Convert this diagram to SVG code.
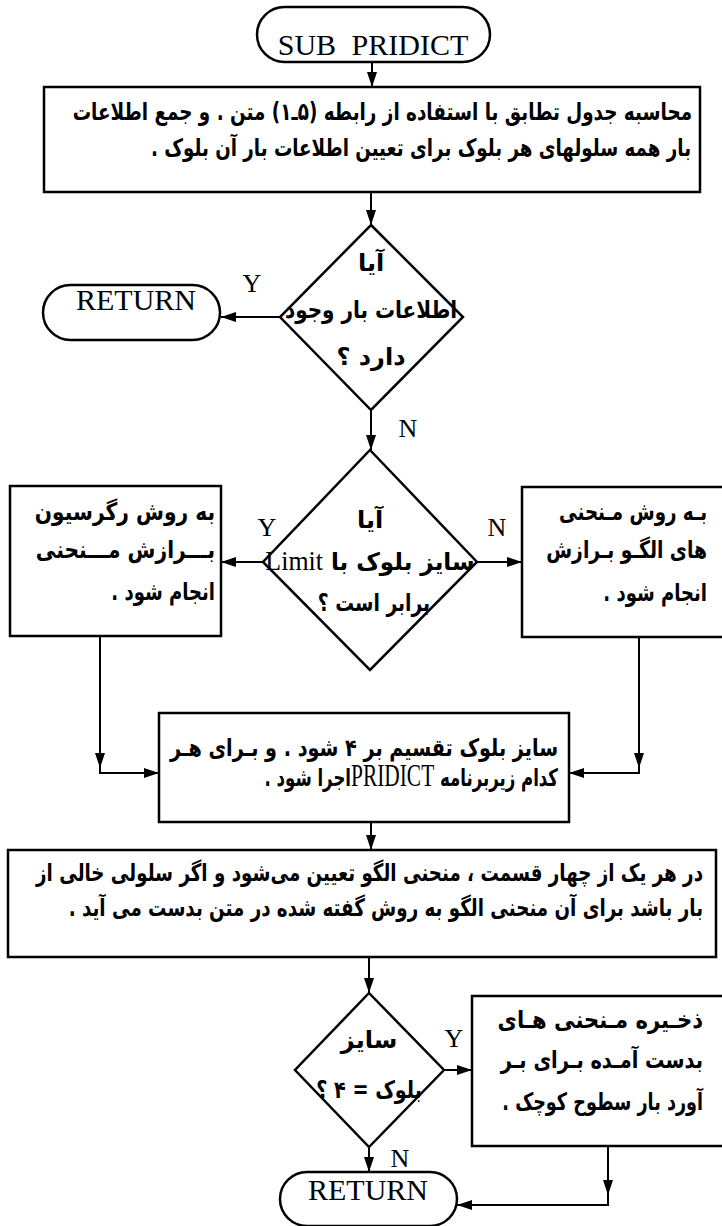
<svg xmlns="http://www.w3.org/2000/svg" width="722" height="1226" viewBox="0 0 722 1226">
<defs>
<marker id="ah" markerWidth="15" markerHeight="10" refX="15" refY="5" orient="auto" markerUnits="userSpaceOnUse"><path d="M0,0 L15,5 L0,10 z" fill="#000"/></marker>
<style>
.sh{fill:#fff;stroke:#000;stroke-width:2.5}
.cn{fill:none;stroke:#000;stroke-width:2}
.fa{font-family:"DejaVu Sans",sans-serif;font-weight:bold;font-size:24px;direction:rtl;fill:#000}
.r{text-anchor:start}
.c{text-anchor:middle}
.lt{font-family:"Liberation Serif",serif;font-weight:normal;font-size:27px}
.lbl{font-family:"Liberation Serif",serif;font-size:26px;fill:#000;text-anchor:middle}
.term{font-family:"Liberation Serif",serif;font-size:30px;text-anchor:middle;fill:#000}
</style>
</defs>
<rect x="0" y="0" width="722" height="1226" fill="#fff"/>
<g id="connectors">
<path class="cn" d="M372,62 V87" marker-end="url(#ah)"/>
<path class="cn" d="M371,192 V225" marker-end="url(#ah)"/>
<path class="cn" d="M280,317 H221" marker-end="url(#ah)"/>
<path class="cn" d="M371,410 V450" marker-end="url(#ah)"/>
<path class="cn" d="M263,562 H221" marker-end="url(#ah)"/>
<path class="cn" d="M477,562 H522" marker-end="url(#ah)"/>
<path class="cn" d="M100,636 V768" marker-end="url(#ah)"/>
<path class="cn" d="M100,766 V773 H159" marker-end="url(#ah)"/>
<path class="cn" d="M639,637 V768" marker-end="url(#ah)"/>
<path class="cn" d="M639,766 V773 H569" marker-end="url(#ah)"/>
<path class="cn" d="M371,822 V850" marker-end="url(#ah)"/>
<path class="cn" d="M369,957 V993" marker-end="url(#ah)"/>
<path class="cn" d="M444,1070 H472" marker-end="url(#ah)"/>
<path class="cn" d="M369,1147 V1172" marker-end="url(#ah)"/>
<path class="cn" d="M608,1146 V1195" marker-end="url(#ah)"/>
<path class="cn" d="M608,1193 V1205 H457" marker-end="url(#ah)"/>
<text class="lbl" x="252" y="292">Y</text>
<text class="lbl" x="408" y="437">N</text>
<text class="lbl" x="267" y="536">Y</text>
<text class="lbl" x="497" y="536">N</text>
<text class="lbl" x="454" y="1047">Y</text>
<text class="lbl" x="400" y="1167">N</text>
</g>
<g id="start">
<rect class="sh" x="257" y="7" width="233" height="55" rx="27.5"/>
<text class="term" x="373" y="55" style="word-spacing:8px">SUB PRIDICT</text>
</g>
<g id="box1">
<rect class="sh" x="44" y="87" width="656" height="105"/>
<text class="fa r" transform="translate(692 120) scale(0.765 1)">محاسبه جدول تطابق با استفاده از رابطه (۵ـ۱) متن . و جمع اطلاعات</text>
<text class="fa r" transform="translate(691 156) scale(0.761 1)">بار همه سلولهای هر بلوک برای تعیین اطلاعات بار آن بلوک .</text>
</g>
<g id="dec1">
<polygon class="sh" points="371,225 463,317 371,410 280,317"/>
<text class="fa c" x="371" y="271">آیا</text>
<text class="fa c" transform="translate(371 318) scale(0.834 1)">اطلاعات بار وجود</text>
<text class="fa c" x="371" y="365">دارد ؟</text>
</g>
<g id="return1">
<rect class="sh" x="43" y="285" width="177" height="55" rx="27.5"/>
<text class="term" x="136" y="310">RETURN</text>
</g>
<g id="dec2">
<polygon class="sh" points="370,450 477,562 370,670 263,562"/>
<text class="fa c" x="370" y="528">آیا</text>
<text class="fa c" transform="translate(370 570) scale(0.96 1)">سایز بلوک با <tspan class="lt">Limit</tspan></text>
<text class="fa c" transform="translate(374 611) scale(0.78 1)">برابر است ؟</text>
</g>
<g id="boxLeft">
<rect class="sh" x="10" y="486" width="211" height="150"/>
<text class="fa r" transform="translate(215 520) scale(0.843 1)">به روش رگرسیون</text>
<text class="fa r" transform="translate(215 558) scale(0.843 1)">بـــرازش مـــنحنی</text>
<text class="fa r" transform="translate(215 600) scale(0.752 1)">انجام شود .</text>
</g>
<g id="boxRight">
<rect class="sh" x="522" y="487" width="212" height="150"/>
<text class="fa r" transform="translate(707 520) scale(0.761 1)">بـه روش مـنحنی</text>
<text class="fa r" transform="translate(707 558) scale(0.78 1)">های الگـو بـرازش</text>
<text class="fa r" transform="translate(707 601) scale(0.752 1)">انجام شود .</text>
</g>
<g id="box3">
<rect class="sh" x="159" y="713" width="410" height="109"/>
<text class="fa r" transform="translate(558 756) scale(0.8 1)">سایز بلوک تقسیم بر ۴ شود . و بـرای هـر</text>
<text class="fa r" transform="translate(558 786) scale(0.69 1)">کدام زیربرنامه <tspan class="lt" style="font-size:31px">PRIDICT</tspan>اجرا شود .</text>
</g>
<g id="box4">
<rect class="sh" x="8" y="850" width="708" height="107"/>
<text class="fa r" transform="translate(703 881) scale(0.761 1)">در هر یک از چهار قسمت ، منحنی الگو تعیین می‌شود و اگر سلولی خالی از</text>
<text class="fa r" transform="translate(703 916) scale(0.761 1)">بار باشد برای آن منحنی الگو به روش گفته شده در متن بدست می آید .</text>
</g>
<g id="dec3">
<polygon class="sh" points="369,993 444,1070 369,1147 295,1070"/>
<text class="fa c" x="369" y="1048">سایز</text>
<text class="fa c" transform="translate(369 1098) scale(0.8 1)">بلوک = ۴ ؟</text>
</g>
<g id="box5">
<rect class="sh" x="472" y="996" width="262" height="150"/>
<text class="fa r" transform="translate(703 1028) scale(0.88 1)">ذخـیره مـنحنی هـای</text>
<text class="fa r" transform="translate(703 1068) scale(0.807 1)">بدست آمـده بـرای بـر</text>
<text class="fa r" transform="translate(703 1110) scale(0.733 1)">آورد بار سطوح کوچک .</text>
</g>
<g id="return2">
<rect class="sh" x="280" y="1172" width="177" height="54" rx="27"/>
<text class="term" x="368" y="1200">RETURN</text>
</g>
</svg>
